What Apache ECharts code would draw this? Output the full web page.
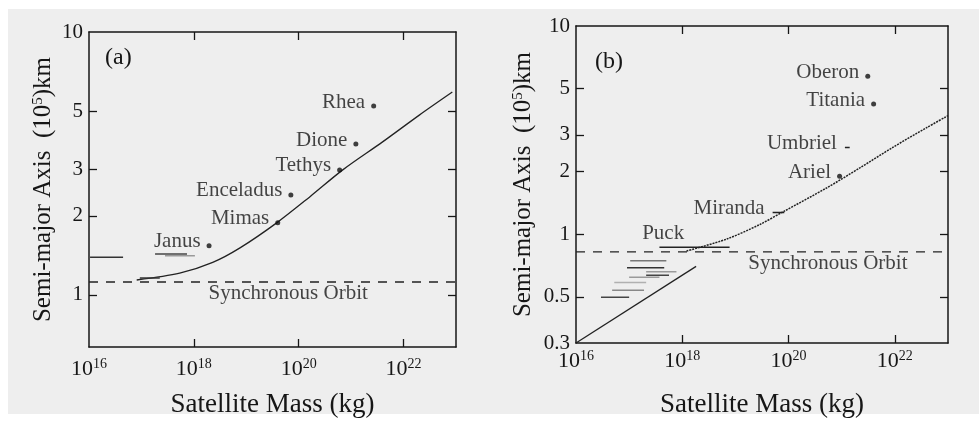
<!DOCTYPE html>
<html><head><meta charset="utf-8">
<script src="https://cdn.jsdelivr.net/npm/echarts@6/dist/echarts.min.js"></script>
<style>html,body{margin:0;padding:0;background:#fff}#c{width:979px;height:423px}</style>
</head><body><div id="c"></div>
<script>
// ---------- shared tick labels ----------
const xTickExp = [16, 18, 20, 22];          // 10^n kg
const yTicksA = [1, 2, 3, 5, 10];           // 10^5 km
const yTicksB = [0.3, 0.5, 1, 2, 3, 5, 10]; // 10^5 km

// ---------- panel (a): Saturn ----------
const curveA_logMass = [16.91, 17.73, 18.36, 18.88, 19.58, 20.21, 20.84, 21.6, 22.3, 22.93];
const curveA_axis    = [1.14, 1.21, 1.33, 1.51, 1.88, 2.36, 2.99, 3.82, 4.83, 5.91];
const syncA = 1.12;
const moonNamesA   = ['Janus', 'Mimas', 'Enceladus', 'Tethys', 'Dione', 'Rhea'];
const moonLogMassA = [18.29, 19.6, 19.85, 20.78, 21.09, 21.43];
const moonAxisA    = [1.54, 1.88, 2.40, 2.99, 3.75, 5.23];
const rangeA_from = [16.02, 16.97, 17.26, 17.45];
const rangeA_to   = [16.65, 17.35, 17.87, 18.02];
const rangeA_axis = [1.39, 1.16, 1.43, 1.41];

// ---------- panel (b): Uranus ----------
const curveB_logMass = [18.08, 18.83, 19.45, 19.92, 20.72, 21.34, 21.96, 22.6, 23.0];
const curveB_axis    = [0.83, 0.946, 1.11, 1.29, 1.67, 2.08, 2.61, 3.25, 3.71];
const lowerB_logMass = [16.0, 18.26];
const lowerB_axis    = [0.30, 0.70];
const syncB = 0.822;
const moonNamesB   = ['Ariel', 'Titania', 'Oberon'];
const moonLogMassB = [20.96, 21.6, 21.49];
const moonAxisB    = [1.9, 4.22, 5.73];
const dashNamesB = ['Puck', 'Miranda', 'Umbriel'];
const dashFromB  = [17.57, 19.70, 21.06];
const dashToB    = [18.89, 19.92, 21.15];
const dashAxisB  = [0.865, 1.27, 2.61];
const rangeB_from = [17.02, 16.96, 17.32, 17.32, 17.0, 16.72, 16.68, 16.47];
const rangeB_to   = [17.70, 17.66, 17.89, 17.75, 17.57, 17.32, 17.28, 17.0];
const rangeB_axis = [0.745, 0.69, 0.66, 0.635, 0.62, 0.586, 0.537, 0.497];

// ---------- styling ----------
const FF = 'Liberation Serif, DejaVu Serif, serif';
const INK = '#161616';
const L = Math.log10;
const rangeA_col = ['#333', '#333', '#444', '#999'];
const rangeB_col = ['#777', '#333', '#9a9a9a', '#444', '#9a9a9a', '#b0b0b0', '#888', '#444'];

function xAxes(gridIndex, margin, gap) {
  const base = {
    type: 'value', gridIndex, min: 16, max: 23, splitLine: {show: false},
    axisLine: {show: true, onZero: false, lineStyle: {color: INK, width: 1.5}},
    axisTick: {show: true, inside: true, length: 8, customValues: xTickExp.slice(1), lineStyle: {color: INK, width: 1.3}}
  };
  return [
    Object.assign({}, base, {
      position: 'bottom',
      name: 'Satellite Mass (kg)', nameLocation: 'middle', nameGap: gap,
      nameTextStyle: {fontFamily: FF, fontSize: 27, color: INK},
      axisLabel: {
        customValues: xTickExp, margin,
        formatter: v => '{b|10}{s|' + Math.round(v) + '}',
        rich: {
          b: {fontFamily: FF, fontSize: 22, color: INK},
          s: {fontFamily: FF, fontSize: 14, color: INK, padding: [0, 0, 10, 0]}
        }
      }
    }),
    Object.assign({}, base, {position: 'top', axisLabel: {show: false}})
  ];
}
function yAxes(gridIndex, ticks, minV, gap) {
  const tv = ticks.map(L);
  const base = {
    type: 'value', gridIndex, min: L(minV), max: 1, splitLine: {show: false},
    axisLine: {show: true, onZero: false, lineStyle: {color: INK, width: 1.5}},
    axisTick: {show: true, inside: true, length: 8, customValues: tv.filter(v => v > L(minV) + 1e-6 && v < 1 - 1e-6), lineStyle: {color: INK, width: 1.3}}
  };
  return [
    Object.assign({}, base, {
      position: 'left',
      name: '{t|Semi-major Axis  (10}{s|5}{t|)km}', nameLocation: 'middle', nameRotate: 90, nameGap: gap,
      nameTextStyle: {rich: {
        t: {fontFamily: FF, fontSize: 25, color: INK},
        s: {fontFamily: FF, fontSize: 15, color: INK, padding: [0, 0, 10, 0]}
      }},
      axisLabel: {
        customValues: tv, margin: 6, fontFamily: FF, fontSize: 21, color: INK,
        formatter: v => String(+Math.pow(10, v).toPrecision(2))
      }
    }),
    Object.assign({}, base, {position: 'right', axisLabel: {show: false}})
  ];
}

const series = [];
function seg(xi, yi, x0, x1, a, color, width, type) {
  series.push({type: 'line', xAxisIndex: xi, yAxisIndex: yi, data: [[x0, L(a)], [x1, L(a)]],
    symbol: 'none', silent: true, z: 3, lineStyle: {color, width: width || 1.3, type: type || 'solid'}});
}
const moonLabel = {show: true, position: 'left', distance: 6, offset: [0, -4],
  formatter: p => p.data.name, fontFamily: FF, fontSize: 21, color: INK};

// panel (a)
series.push({type: 'line', xAxisIndex: 0, yAxisIndex: 0, smooth: 0.3, symbol: 'none',
  data: curveA_logMass.map((m, i) => [m, L(curveA_axis[i])]), lineStyle: {color: '#222', width: 1.3}});
seg(0, 0, 16, 23, syncA, '#222', 1.3, [9, 8]);
rangeA_from.forEach((f, i) => seg(0, 0, f, rangeA_to[i], rangeA_axis[i], rangeA_col[i], 1.5));
series.push({type: 'scatter', xAxisIndex: 0, yAxisIndex: 0, symbol: 'circle', symbolSize: 5,
  itemStyle: {color: '#111'}, label: moonLabel, z: 5,
  data: moonNamesA.map((n, i) => ({name: n, value: [moonLogMassA[i], L(moonAxisA[i])]}))});
series.push({type: 'scatter', xAxisIndex: 0, yAxisIndex: 0, symbolSize: 0,
  data: [{name: 'Synchronous Orbit', value: [19.8, L(syncA)]}],
  label: {show: true, position: 'bottom', distance: 1, formatter: p => p.data.name, fontFamily: FF, fontSize: 21, color: INK}});

// panel (b)
series.push({type: 'line', xAxisIndex: 2, yAxisIndex: 2, smooth: 0.3, symbol: 'none',
  data: curveB_logMass.map((m, i) => [m, L(curveB_axis[i])]), lineStyle: {color: '#222', width: 1.5, type: [2, 1]}});
series.push({type: 'line', xAxisIndex: 2, yAxisIndex: 2, symbol: 'none',
  data: lowerB_logMass.map((m, i) => [m, L(lowerB_axis[i])]), lineStyle: {color: '#222', width: 1.3}});
seg(2, 2, 16, 23, syncB, '#222', 1.3, [9, 8]);
rangeB_from.forEach((f, i) => seg(2, 2, f, rangeB_to[i], rangeB_axis[i], rangeB_col[i], 1.5));
dashFromB.forEach((f, i) => seg(2, 2, f, dashToB[i], dashAxisB[i], '#222', 1.5));
series.push({type: 'scatter', xAxisIndex: 2, yAxisIndex: 2, symbol: 'circle', symbolSize: 5,
  itemStyle: {color: '#111'}, label: moonLabel, z: 5,
  data: moonNamesB.map((n, i) => ({name: n, value: [moonLogMassB[i], L(moonAxisB[i])]}))});
series.push({type: 'scatter', xAxisIndex: 2, yAxisIndex: 2, symbolSize: 0, z: 5,
  data: dashNamesB.map((n, i) => ({name: n, value: [i === 0 ? dashFromB[i] + 0.07 : dashFromB[i], L(dashAxisB[i])],
    label: i === 0 ? {position: 'top', distance: 3, offset: [0, 0]} : {}})),
  label: Object.assign({}, moonLabel, {distance: 8})});
series.push({type: 'scatter', xAxisIndex: 2, yAxisIndex: 2, symbolSize: 0,
  data: [{name: 'Synchronous Orbit', value: [20.74, L(syncB)]}],
  label: {show: true, position: 'bottom', distance: 1, formatter: p => p.data.name, fontFamily: FF, fontSize: 21, color: INK}});

const chart = echarts.init(document.getElementById('c'), null, {renderer: 'canvas'});
chart.setOption({
  animation: false,
  backgroundColor: '#ffffff',
  graphic: [
    {type: 'rect', z: -10, silent: true, shape: {x: 8, y: 9, width: 971, height: 405}, style: {fill: '#eeeeee'}},
    {type: 'text', left: 105, top: 46, style: {text: '(a)', font: '24px ' + FF, fill: INK}},
    {type: 'text', left: 595, top: 50, style: {text: '(b)', font: '24px ' + FF, fill: INK}}
  ],
  grid: [
    {left: 89, right: 523, top: 32, bottom: 76},
    {left: 576, right: 31, top: 26, bottom: 80}
  ],
  xAxis: [...xAxes(0, 10, 44), ...xAxes(1, 6, 48)],
  yAxis: [...yAxes(0, yTicksA, 0.634, 33), ...yAxes(1, yTicksB, 0.3, 40)],
  series
});
</script></body></html>
